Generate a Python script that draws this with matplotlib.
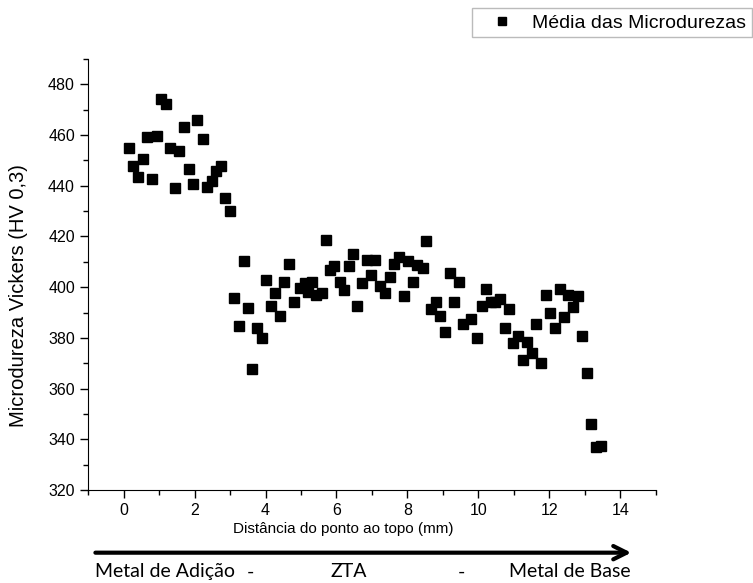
import numpy as np
import matplotlib
matplotlib.use('Agg')
import matplotlib.pyplot as plt
from matplotlib.ticker import MultipleLocator

plt.rcParams['font.family'] = ['Liberation Sans', 'DejaVu Sans']

# distância ao topo (mm) e microdureza média (HV 0,3)
distancia = [0.16, 0.27, 0.41, 0.55, 0.67, 0.80, 0.94, 1.05, 1.20, 1.32,
             1.45, 1.56, 1.71, 1.83, 1.97, 2.08, 2.23, 2.34, 2.48, 2.60,
             2.75, 2.86, 2.99, 3.11, 3.24, 3.38, 3.50, 3.63, 3.77, 3.90,
             4.02, 4.15, 4.28, 4.41, 4.53, 4.67, 4.80, 4.98, 5.12, 5.19,
             5.31, 5.43, 5.59, 5.71, 5.83, 5.94, 6.09, 6.22, 6.35, 6.47,
             6.59, 6.73, 6.85, 6.98, 7.08, 7.23, 7.38, 7.51, 7.62, 7.75,
             7.89, 8.01, 8.15, 8.28, 8.43, 8.53, 8.66, 8.80, 8.92, 9.06,
             9.19, 9.31, 9.44, 9.56, 9.78, 9.95, 10.09, 10.22, 10.35, 10.47,
             10.60, 10.74, 10.86, 10.98, 11.11, 11.25, 11.38, 11.52, 11.63, 11.76,
             11.90, 12.03, 12.15, 12.29, 12.42, 12.53, 12.67, 12.80, 12.92, 13.06,
             13.17, 13.32, 13.45]
microdureza = [454.7, 447.7, 443.5, 450.7, 459.1, 442.7, 459.6, 474.1, 472.1, 454.8,
               439.3, 453.6, 463.2, 446.6, 440.6, 465.9, 458.4, 439.4, 441.8, 445.8,
               447.6, 435.3, 430.2, 395.9, 384.6, 410.4, 391.7, 367.6, 384.0, 380.1,
               403.0, 392.4, 397.8, 388.8, 402.0, 409.2, 394.1, 399.7, 401.5, 398.2,
               402.1, 397.1, 397.6, 418.5, 406.6, 408.5, 402.2, 398.7, 408.5, 413.0,
               392.5, 401.5, 410.9, 405.0, 410.9, 400.3, 397.6, 403.9, 409.3, 411.8,
               396.6, 410.4, 402.1, 408.7, 407.5, 418.2, 391.2, 394.2, 388.8, 382.5,
               405.6, 394.1, 401.9, 385.5, 387.3, 379.8, 392.4, 399.3, 394.0, 394.2,
               395.2, 384.0, 391.5, 377.8, 380.8, 371.2, 378.2, 373.9, 385.6, 370.1,
               397.0, 390.0, 384.0, 399.2, 388.2, 397.1, 392.1, 396.7, 380.6, 366.0,
               346.0, 337.1, 337.3]

regioes = ['Metal de Adição', '-', 'ZTA', '-', 'Metal de Base']
regioes_x = [0.126, 0.332, 0.463, 0.613, 0.838]
regioes_ha = ['left', 'center', 'center', 'center', 'right']

fig = plt.figure(figsize=(7.53, 5.83), dpi=100)
ax = fig.add_axes([0.117, 0.1595, 0.754, 0.7393])

linha, = ax.plot(distancia, microdureza, 's', color='black', markersize=6.8,
                 label='Média das Microdurezas')

ax.set_xlim(-1, 15)
ax.set_ylim(320, 490)
ax.xaxis.set_major_locator(MultipleLocator(2))
ax.xaxis.set_minor_locator(MultipleLocator(1))
ax.yaxis.set_major_locator(MultipleLocator(20))
ax.yaxis.set_minor_locator(MultipleLocator(10))
ax.tick_params(which='major', direction='out', length=6, width=1, labelsize=11.5)
ax.tick_params(which='minor', direction='out', length=3.5, width=1)
for lab in ax.get_xticklabels() + ax.get_yticklabels():
    lab.set_family('Liberation Sans')
ax.spines['top'].set_visible(False)
ax.spines['right'].set_visible(False)

ax.set_xlabel('Distância do ponto ao topo (mm)', fontsize=11, family='Liberation Sans')
ax.xaxis.set_label_coords(0.449, -0.075)
ax.set_ylabel('Microdureza Vickers (HV 0,3)', fontsize=14.5, family='Liberation Sans')
ax.yaxis.set_label_coords(-0.105, 0.45)

leg = fig.legend(handles=[linha], loc='upper right', bbox_to_anchor=(0.999, 0.986),
                 prop={'family': 'Liberation Sans', 'size': 14},
                 fancybox=False, edgecolor='#aaaaaa',
                 markerscale=0.85, handlelength=2.5, borderpad=0.3,
                 handletextpad=0.3, borderaxespad=0)
leg.get_frame().set_linewidth(1)

# seta das regiões
fig.patches.append(matplotlib.patches.FancyArrowPatch(
    (0.123, 0.052), (0.842, 0.052), transform=fig.transFigure,
    arrowstyle='->', mutation_scale=24, lw=3, color='black'))

for t, xp, ha in zip(regioes, regioes_x, regioes_ha):
    fig.text(xp, 0.019, t, ha=ha, va='center', fontsize=14, family='Lato')

fig.savefig('out.png', dpi=100)
